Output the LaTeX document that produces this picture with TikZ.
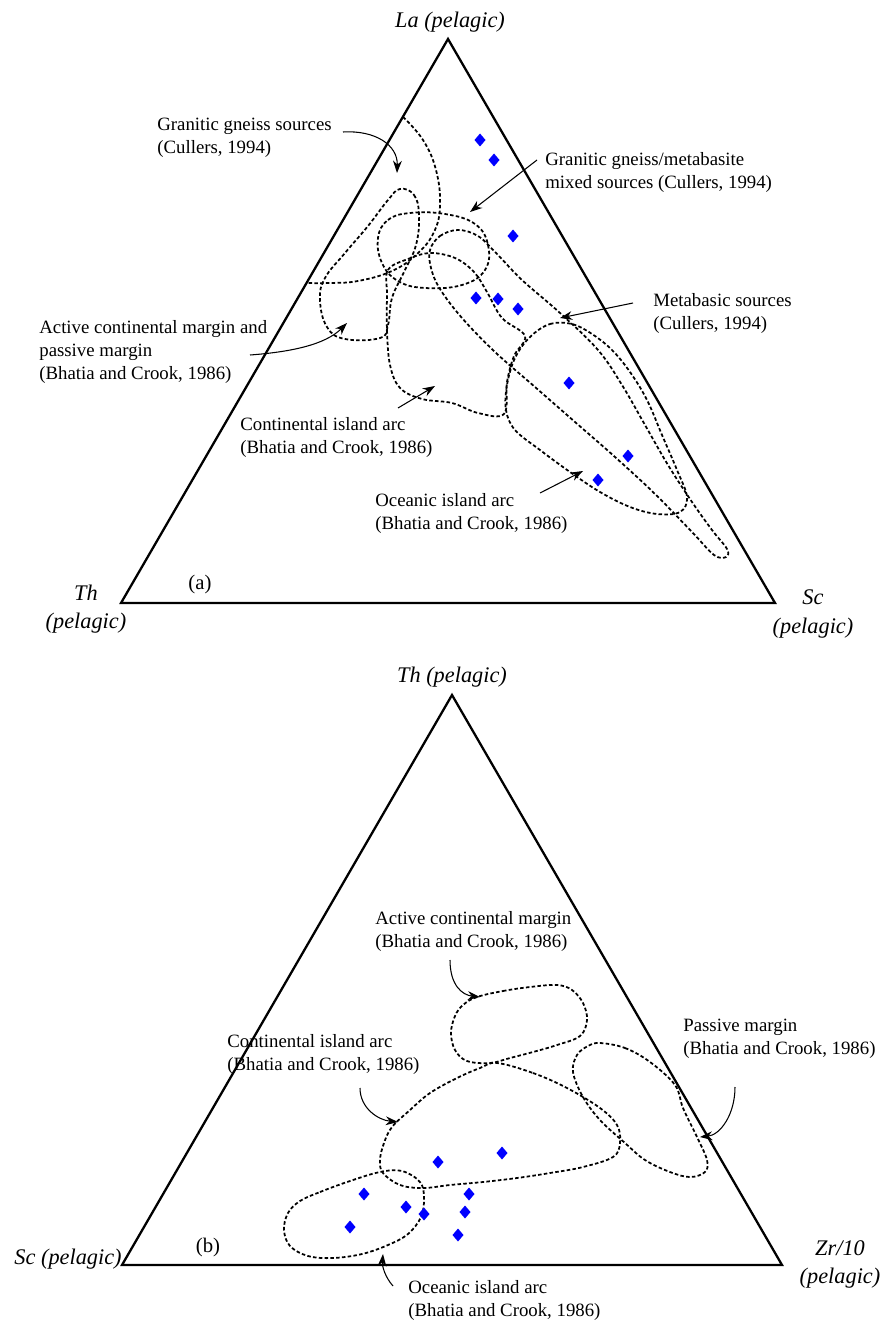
\documentclass[tikz,border=0pt]{standalone}
\usepackage{fontspec}
\setmainfont{Liberation Serif}
\usetikzlibrary{arrows.meta}
\begin{document}
\begin{tikzpicture}[x=0.02cm,y=-0.02cm,
	side/.style={line width=1.3pt,line join=miter},
	field/.style={line width=1pt,dash pattern=on 2pt off 1.3pt},
	pointer/.style={line width=0.6pt,-{Stealth[length=7pt,width=5pt]}},
	note/.style={inner sep=0pt,anchor=west,align=left,font=\fontsize{10.7}{13.1}\selectfont},
	corner/.style={inner sep=0pt,align=center,font=\fontsize{12.7}{16}\selectfont\itshape},
	tag/.style={inner sep=0pt,font=\fontsize{11.8}{14}\selectfont}]
\useasboundingbox (0,0) rectangle (885,1324);

% (a) La - Th - Sc
\draw[side] (448,39) coordinate (La) -- (121,603) coordinate (Th) -- (775,603) coordinate (Sc) -- cycle;
\node[corner] (laname) at (450,22) {La (pelagic)};
\node[corner] (thname) at (86,609) {Th\\(pelagic)};
\node[corner] (scname) at (813,614) {Sc\\(pelagic)};
\node[tag] (atag) at (200,585) {(a)};

% fields of (a)
\draw[field] plot[smooth,tension=0.7] coordinates {(403,117) (423,140) (436,170) (440,205) (434,232) (417,254) (392,271) (358,281) (330,283) (307,283)};
\draw[field] plot[smooth cycle,tension=0.7] coordinates {(400,189) (414,195) (419,215) (416,245) (404,272) (392,298) (388,325) (380,338) (345,339) (327,327) (320,300) (325,278) (345,253) (368,226) (388,200)};
\draw[field] plot[smooth cycle,tension=0.7] coordinates {(378,238) (388,220) (410,213) (445,214) (475,224) (488,245) (485,270) (462,285) (425,288) (398,281) (382,263)};
\draw[field] plot[smooth cycle,tension=0.6] coordinates {(388,270) (408,259) (430,253) (455,258) (474,272) (487,292) (502,318) (525,336) (514,356) (507,382) (504,414) (478,413) (452,403) (422,399) (400,388) (390,365) (387,330) (387,295)};
\draw[field] plot[smooth cycle,tension=0.6] coordinates {(430,250) (440,236) (458,230) (478,236) (497,254) (522,280) (560,313) (598,350) (622,385) (645,425) (668,465) (692,502) (712,530) (727,549) (726,557) (714,555) (692,532) (655,494) (615,457) (575,422) (535,387) (495,352) (462,318) (440,289) (431,268)};
\draw[field] plot[smooth cycle,tension=0.6] coordinates {(530,337) (550,324) (572,324) (592,334) (612,350) (630,372) (647,400) (662,435) (677,470) (687,497) (680,512) (657,514) (630,507) (600,492) (570,472) (540,450) (515,430) (506,410) (507,385) (515,358)};

% samples of (a)
\foreach \p in {(480,140),(494,160),(513,236),(476,298),(498,299),(518,309),(569,383),(628,456),(598,480)}
	\fill[blue] \p +(-5.5,0) -- +(0,-6.5) -- +(5.5,0) -- +(0,6.5) -- cycle;

% notes of (a)
\node[note] (ggnote) at (157,138) {Granitic gneiss sources\\(Cullers, 1994)};
\node[note] (mixnote) at (545,172) {Granitic gneiss/metabasite\\mixed sources (Cullers, 1994)};
\node[note] (mbnote) at (653,313) {Metabasic sources\\(Cullers, 1994)};
\node[note] (acmnote) at (39,352) {Active continental margin and\\passive margin\\(Bhatia and Crook, 1986)};
\node[note] (cianote) at (240,437) {Continental island arc\\(Bhatia and Crook, 1986)};
\node[note] (oianote) at (375,513) {Oceanic island arc\\(Bhatia and Crook, 1986)};

\coordinate (gga) at (343,132);   \coordinate (ggb) at (397,173);
\coordinate (mixa) at (537,160);  \coordinate (mixb) at (470,212);
\coordinate (mba) at (633,303);   \coordinate (mbb) at (560,318);
\coordinate (acma) at (250,355);  \coordinate (acmb) at (347,323);
\coordinate (ciaa) at (398,408);  \coordinate (ciab) at (435,386);
\coordinate (oiaa) at (540,493);  \coordinate (oiab) at (583,471);
\draw[pointer] (gga) .. controls (375,130) and (398,145) .. (ggb);
\draw[pointer] (mixa) -- (mixb);
\draw[pointer] (mba) -- (mbb);
\draw[pointer] (acma) .. controls (290,352) and (325,345) .. (acmb);
\draw[pointer] (ciaa) -- (ciab);
\draw[pointer] (oiaa) -- (oiab);

% (b) Th - Sc - Zr/10
\draw[side] (452,695) coordinate (Thb) -- (122,1265) coordinate (Scb) -- (782,1265) coordinate (Zr) -- cycle;
\node[corner] (thbname) at (452,677) {Th (pelagic)};
\node[corner,anchor=east] (scbname) at (122,1259) {Sc (pelagic)};
\node[corner] (zrname) at (840,1264) {Zr/10\\(pelagic)};
\node[tag] (btag) at (208,1247) {(b)};

% fields of (b)
\draw[field] plot[smooth cycle,tension=0.6] coordinates {(477,997) (503,991) (530,987) (557,985) (572,990) (583,1003) (587,1020) (580,1036) (557,1045) (533,1052) (510,1058) (490,1063) (467,1061) (455,1050) (451,1033) (455,1016) (463,1005)};
\draw[field] plot[smooth cycle,tension=0.6] coordinates {(497,1063) (533,1073) (567,1088) (600,1108) (617,1125) (620,1143) (613,1157) (583,1167) (550,1173) (517,1178) (483,1182) (450,1185) (423,1188) (400,1185) (383,1173) (380,1160) (384,1143) (392,1127) (410,1110) (430,1093) (457,1078) (480,1068)};
\draw[field] plot[smooth cycle,tension=0.6] coordinates {(600,1043) (625,1048) (650,1062) (675,1085) (683,1108) (697,1137) (707,1160) (705,1172) (690,1177) (670,1172) (645,1160) (625,1143) (600,1120) (583,1097) (573,1072) (577,1055) (588,1046)};
\draw[field] plot[smooth cycle,tension=0.6] coordinates {(300,1201) (320,1192) (350,1181) (380,1172) (402,1171) (420,1182) (424,1198) (421,1217) (408,1234) (388,1245) (362,1254) (333,1258) (308,1256) (290,1246) (284,1230) (288,1213)};

% samples of (b)
\foreach \p in {(502,1153),(438,1162),(364,1194),(406,1207),(424,1214),(469,1194),(465,1212),(350,1227),(458,1235)}
	\fill[blue] \p +(-5.5,0) -- +(0,-6.5) -- +(5.5,0) -- +(0,6.5) -- cycle;

% notes of (b)
\node[note] (acmbnote) at (375,931) {Active continental margin\\(Bhatia and Crook, 1986)};
\node[note] (ciabnote) at (227,1054) {Continental island arc\\(Bhatia and Crook, 1986)};
\node[note] (pmnote) at (683,1039) {Passive margin\\(Bhatia and Crook, 1986)};
\node[note] (oiabnote) at (408,1300) {Oceanic island arc\\(Bhatia and Crook, 1986)};

\coordinate (acmba) at (450,960);  \coordinate (acmbb) at (480,997);
\coordinate (ciaba) at (360,1088); \coordinate (ciabb) at (398,1122);
\coordinate (pma) at (735,1087);   \coordinate (pmb) at (700,1137);
\coordinate (oiaba) at (393,1286); \coordinate (oiabb) at (383,1254);
\draw[pointer] (acmba) .. controls (450,985) and (462,995) .. (acmbb);
\draw[pointer] (ciaba) .. controls (360,1108) and (378,1120) .. (ciabb);
\draw[pointer] (pma) .. controls (735,1115) and (720,1135) .. (pmb);
\draw[pointer] (oiaba) .. controls (385,1277) and (382,1266) .. (oiabb);
\end{tikzpicture}
\end{document}
